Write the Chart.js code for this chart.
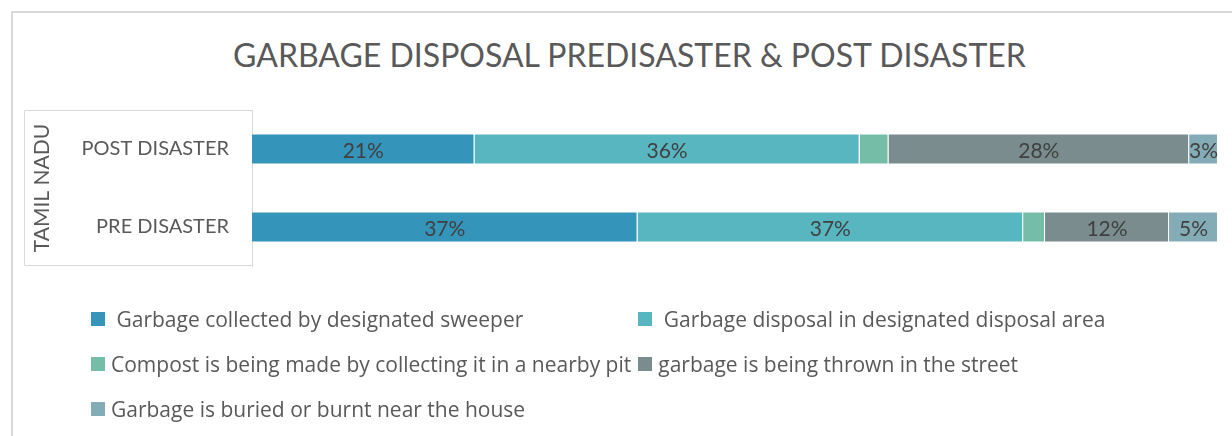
<!DOCTYPE html>
<html>
<head>
<meta charset="utf-8">
<title>Garbage disposal</title>
<script src="https://cdn.jsdelivr.net/npm/chart.js@4.4.0/dist/chart.umd.min.js"></script>
<style>
  body { margin: 0; width: 1232px; height: 436px; overflow: hidden; background: #fff; position: relative; font-family: Lato, sans-serif; }
  #frame { position: absolute; left: 11px; top: 11px; width: 1240px; height: 440px; border: 2px solid #D9D9D9; box-sizing: border-box; }
  #title { position: absolute; left: 0; top: 35px; width: 1259px; text-align: center; font-size: 32px; line-height: 40px; color: #595959; }
  #chartBox { position: absolute; left: 0; top: 75px; width: 1232px; height: 226px; }
  #legend { position: absolute; left: 91px; top: 296px; display: grid; grid-template-columns: auto auto; column-gap: 7px; grid-auto-rows: 45px; align-items: center; }
  .item { display: flex; align-items: center; font-family: "Open Sans", sans-serif; font-size: 21px; color: #595959; white-space: pre; }
  .swatch { width: 14px; height: 14px; margin-right: 6px; flex: none; }
</style>
</head>
<body>
<div id="frame"></div>
<div id="title">GARBAGE DISPOSAL PREDISASTER &amp; POST DISASTER</div>
<div id="chartBox"><canvas id="chart"></canvas></div>
<div id="legend"></div>

<script>
// categories (top to bottom) and the group label on the axis
const categories = ['POST DISASTER', 'PRE DISASTER'];
const groupLabel = 'TAMIL NADU';

// series names as in the legend
const seriesNames = [
  ' Garbage collected by designated sweeper',
  ' Garbage disposal in designated disposal area',
  'Compost is being made by collecting it in a nearby pit',
  'garbage is being thrown in the street',
  'Garbage is buried or burnt near the house'
];

// values in % of households, [post, pre]
const sweeper = [20.8, 37];
const designatedArea = [36, 37];
const compost = [2.7, 2.1];
const street = [28.1, 11.9];
const buried = [2.7, 4.7];

const colors = ['#3494BA', '#58B6C0', '#75BDA7', '#7A8C8E', '#84ACB6'];

const series = [sweeper, designatedArea, compost, street, buried];

// 100% stacked: each row is scaled by its own total
const totals = categories.map((c, j) => series.reduce((s, arr) => s + arr[j], 0));

const datasets = series.map((arr, i) => ({
  label: seriesNames[i],
  values: arr,
  data: arr.map((v, j) => v / totals[j] * 100),
  backgroundColor: colors[i],
  borderColor: 'rgba(255,255,255,0.35)',
  borderWidth: 1,
  barPercentage: 0.4,
  categoryPercentage: 1.0
}));

// box around the category axis (like excel's multi level axis)
const axisBox = {
  id: 'axisBox',
  afterDraw(chart) {
    const { ctx, chartArea, scales: { y } } = chart;
    ctx.save();
    ctx.strokeStyle = '#D9D9D9';
    ctx.lineWidth = 1;
    ctx.beginPath();
    ctx.moveTo(chartArea.left, chartArea.top + 0.5);
    ctx.lineTo(y.left + 0.5, chartArea.top + 0.5);
    ctx.lineTo(y.left + 0.5, chartArea.bottom - 0.5);
    ctx.lineTo(chartArea.left, chartArea.bottom - 0.5);
    ctx.stroke();
    ctx.restore();
  }
};

// value labels in the middle of each segment
const barLabels = {
  id: 'barLabels',
  afterDatasetsDraw(chart, args, opts) {
    const { ctx } = chart;
    ctx.save();
    ctx.font = '21px Lato';
    ctx.fillStyle = '#404040';
    ctx.textAlign = 'center';
    ctx.textBaseline = 'alphabetic';
    chart.data.datasets.forEach((ds, i) => {
      if (opts.skip.includes(i)) return;
      chart.getDatasetMeta(i).data.forEach((bar, j) => {
        const { x, y, base } = bar.getProps(['x', 'y', 'base'], true);
        ctx.fillText(Math.round(ds.values[j]) + '%', (x + base) / 2, y + 9);
      });
    });
    ctx.restore();
  }
};

function drawChart() {
  const ctx = document.getElementById('chart').getContext('2d');
  const chart = new Chart(ctx, {
    type: 'bar',
    data: { labels: categories, datasets: datasets },
    options: {
      indexAxis: 'y',
      responsive: true,
      maintainAspectRatio: false,
      animation: false,
      layout: { padding: { left: 24, right: 14, top: 0, bottom: 0 } },
      plugins: {
        legend: { display: false },
        tooltip: { enabled: false },
        barLabels: { skip: [2] }
      },
      scales: {
        x: { stacked: true, min: 0, max: 100, display: false },
        y: {
          stacked: true,
          grid: { display: false, drawTicks: false },
          border: { color: '#D9D9D9', width: 1 },
          ticks: { color: '#595959', font: { family: 'Lato', size: 20 }, padding: 23 },
          title: {
            display: true,
            text: groupLabel,
            color: '#595959',
            font: { family: 'Lato', size: 21 },
            padding: { top: 6, bottom: 0 }
          },
          afterFit(scale) { scale.width = 228; }
        }
      }
    },
    plugins: [axisBox, barLabels]
  });

  // html legend in two columns
  const legend = document.getElementById('legend');
  chart.data.datasets.forEach(ds => {
    const item = document.createElement('div');
    item.className = 'item';
    const sw = document.createElement('span');
    sw.className = 'swatch';
    sw.style.background = ds.backgroundColor;
    const txt = document.createElement('span');
    txt.textContent = ds.label;
    item.appendChild(sw);
    item.appendChild(txt);
    legend.appendChild(item);
  });
}

document.fonts.load('20px Lato').then(drawChart, drawChart);
</script>
</body>
</html>
